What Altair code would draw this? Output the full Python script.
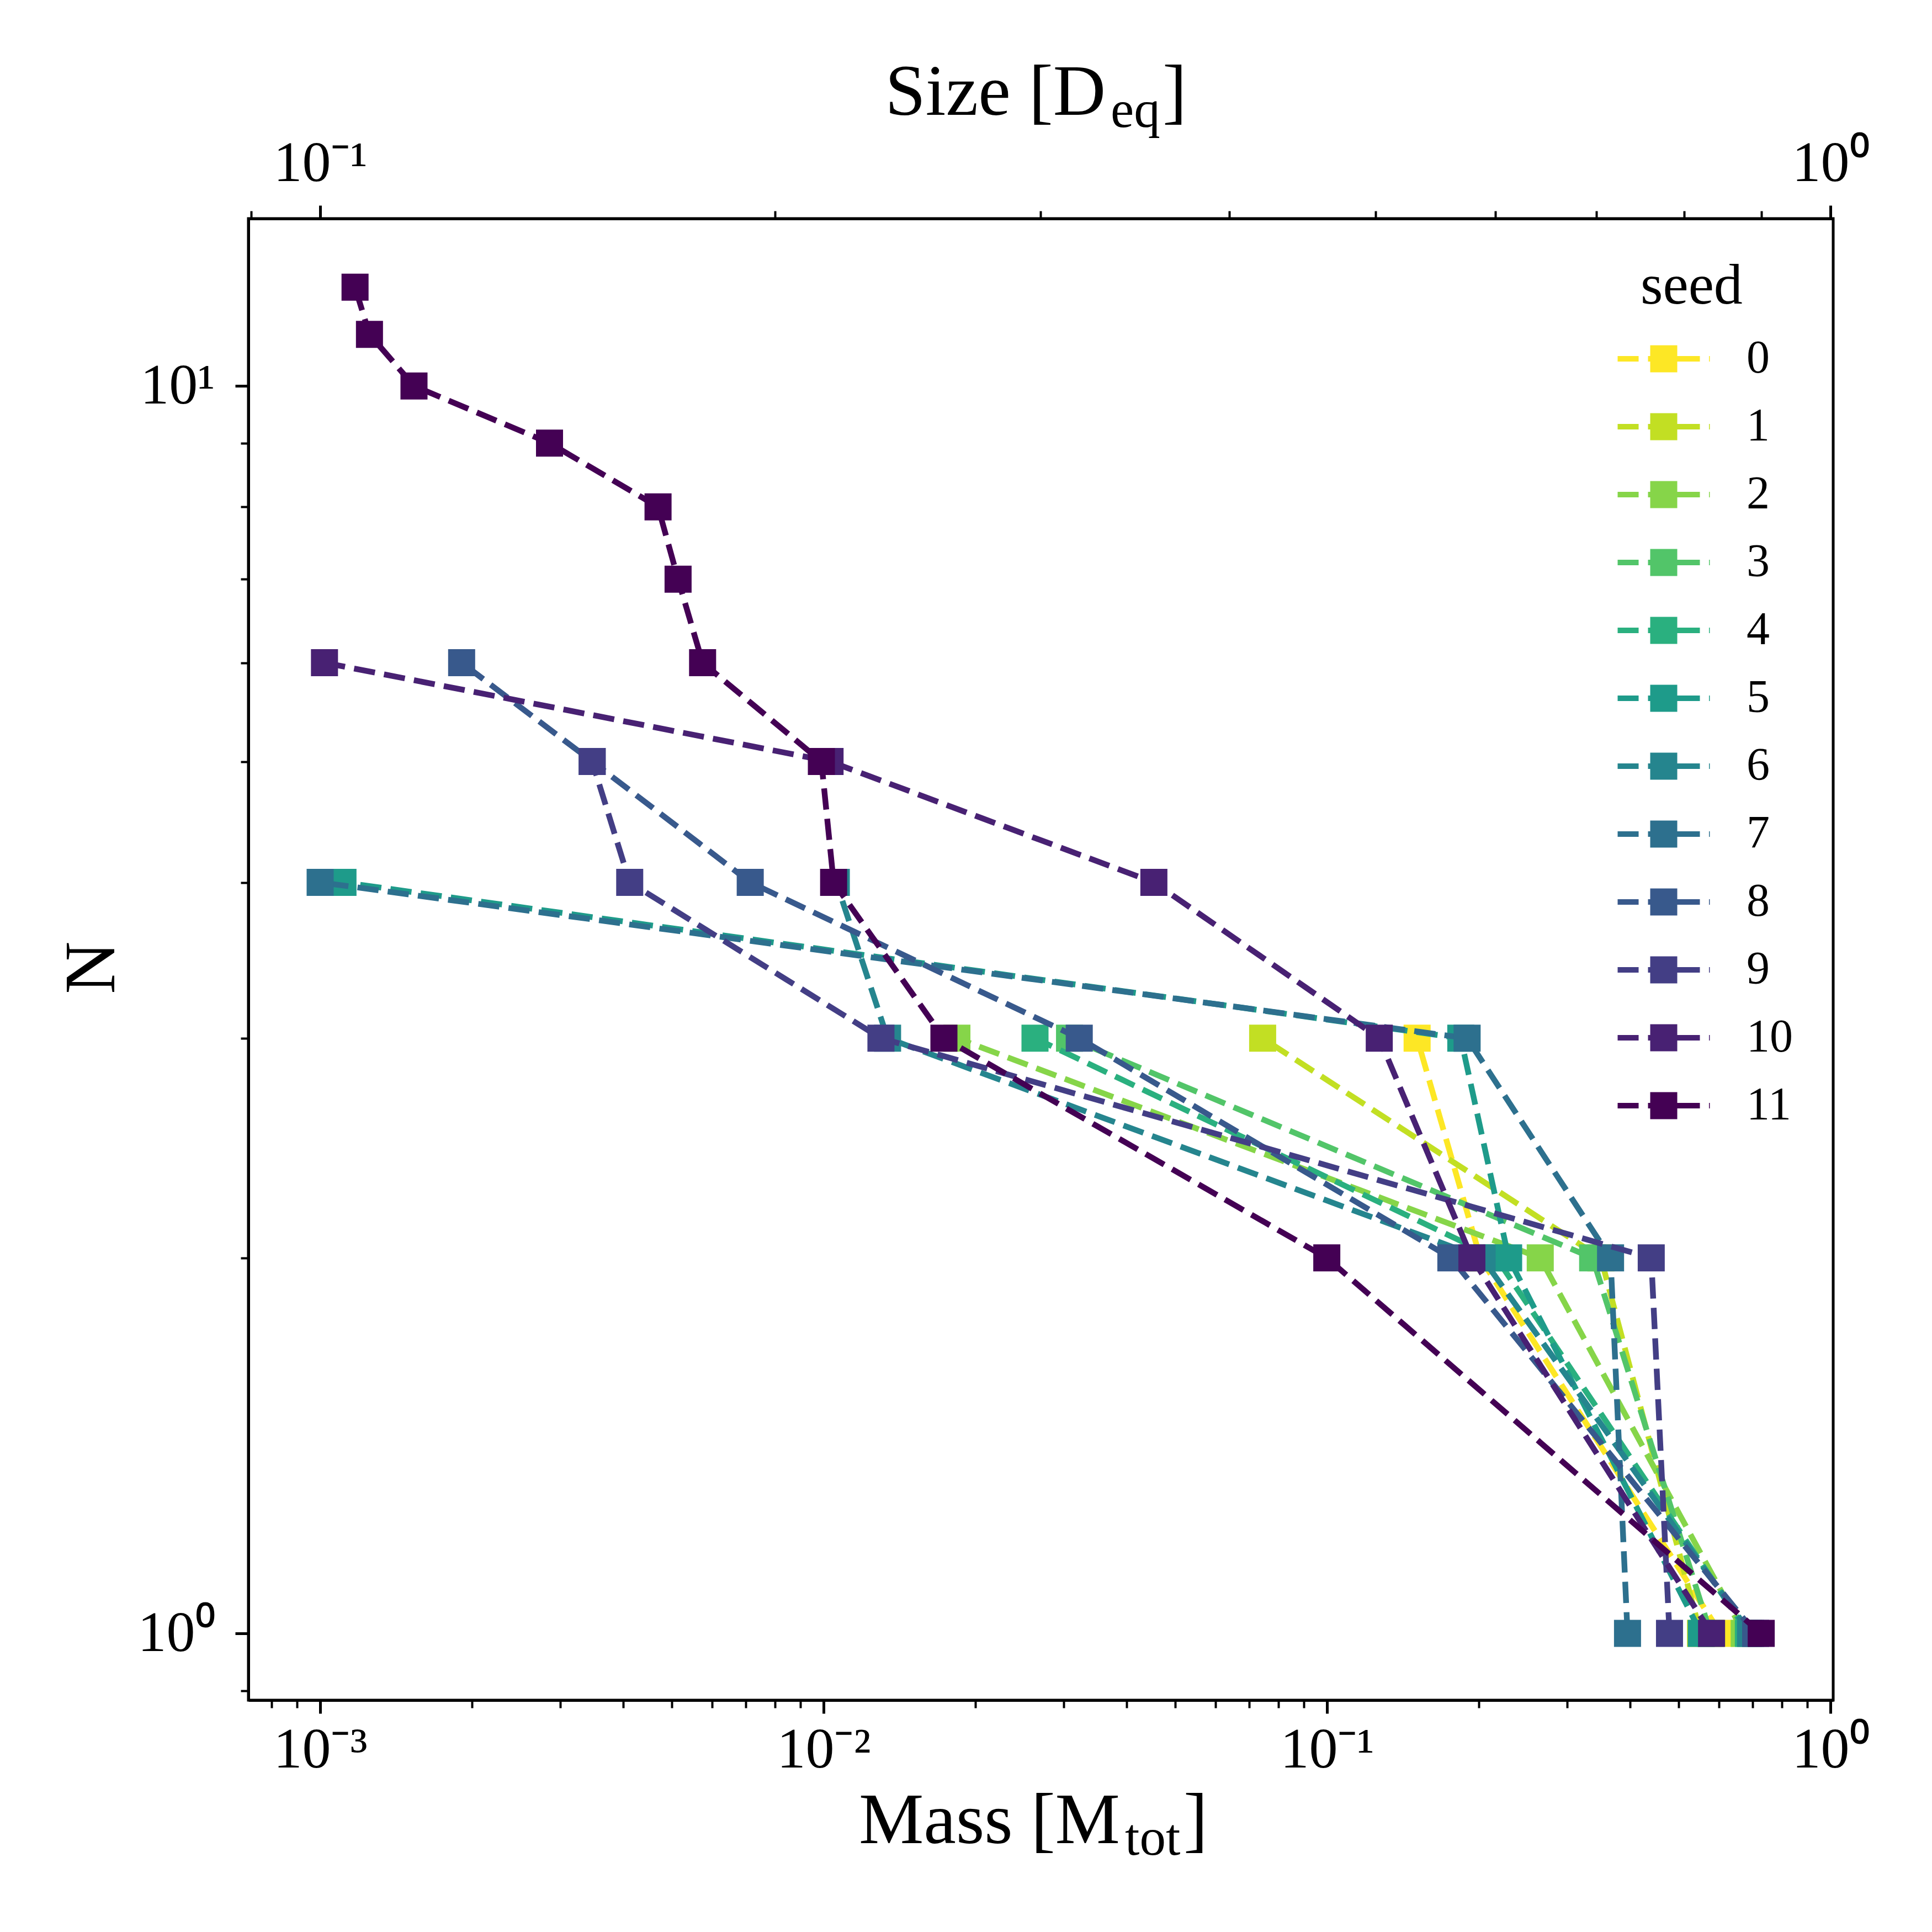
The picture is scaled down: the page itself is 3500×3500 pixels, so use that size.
import altair as alt
import pandas as pd

# ---------------- data ----------------
SEEDS = list(range(12))
COLORS = ["#fde725", "#c2df23", "#86d549", "#52c569", "#2ab07f", "#1e9b8a",
          "#25858e", "#2d708e", "#38598c", "#433e85", "#482173", "#440154"]

# masses of the fragments of each seed, largest first (N = 1, 2, 3, ...)
MASS_0 = [0.605, 0.2016, 0.151]
MASS_1 = [0.552, 0.350, 0.0745]
MASS_2 = [0.674, 0.2652, 0.0184]
MASS_3 = [0.578, 0.337, 0.0308]
MASS_4 = [0.687, 0.217, 0.0263]
MASS_5 = [0.554, 0.2295, 0.1844, 0.00111]
MASS_6 = [0.694, 0.2033, 0.0134, 0.0106]
MASS_7 = [0.3953, 0.3658, 0.1898, 0.00100]
MASS_8 = [0.7103, 0.1762, 0.0322, 0.00715, 0.00347, 0.00191]
MASS_9 = [0.479, 0.4406, 0.0130, 0.00412, 0.00347]
MASS_10 = [0.5806, 0.194, 0.127, 0.0453, 0.0103, 0.00102]
MASS_11 = [0.7286, 0.0999, 0.01734, 0.01047, 0.00990, 0.00575, 0.00514,
           0.00469, 0.002855, 0.001536, 0.001253, 0.001173]
MASSES = [MASS_0, MASS_1, MASS_2, MASS_3, MASS_4, MASS_5, MASS_6, MASS_7,
          MASS_8, MASS_9, MASS_10, MASS_11]

X_TICKS = [0.0008, 0.0009, 0.001, 0.002, 0.003, 0.004, 0.005, 0.006, 0.007, 0.008, 0.009,
           0.01, 0.02, 0.03, 0.04, 0.05, 0.06, 0.07, 0.08, 0.09,
           0.1, 0.2, 0.3, 0.4, 0.5, 0.6, 0.7, 0.8, 0.9, 1.0]
Y_TICKS = [0.9, 1, 2, 3, 4, 5, 6, 7, 8, 9, 10]
TOP_TICKS = [0.09, 0.1, 0.2, 0.3, 0.4, 0.5, 0.6, 0.7, 0.8, 0.9, 1.0]

X_DOMAIN = [7.2022e-4, 1.0127]
Y_DOMAIN = [0.8841, 13.62]
TOP_DOMAIN = [X_DOMAIN[0] ** (1 / 3), X_DOMAIN[1] ** (1 / 3)]

rows = []
for s, ms in zip(SEEDS, MASSES):
    for i, m in enumerate(ms):
        rows.append({"seed": s, "mass": m, "N": i + 1})
df = pd.DataFrame(rows)

# ---------------- styling ----------------
FONT = "Liberation Serif"
W, H = 2871, 2684

MAJ = "abs(log(datum.value)/LN10 - round(log(datum.value)/LN10)) < 0.001"
E = "round(log(datum.value)/LN10)"
LBL = (f"({MAJ}) ? ({E} == -3 ? '10⁻³' : {E} == -2 ? '10⁻²' : {E} == -1 ? '10⁻¹' : "
       f"{E} == 0 ? '10⁰' : '10¹') : ''")
TICK_SIZE = {"condition": {"test": MAJ, "value": 24}, "value": 14}
TICK_W = {"condition": {"test": MAJ, "value": 5}, "value": 4}


def make_axis(values, orient, pad):
    return alt.Axis(values=values, orient=orient, labelExpr=LBL, title=None,
                    tickSize=TICK_SIZE, tickWidth=TICK_W, tickColor="black",
                    domainColor="black", domainWidth=5, grid=False,
                    labelFont=FONT, labelFontSize=104, labelColor="black",
                    labelPadding=pad, labelOverlap=False, labelFlush=False,
                    labelBound=False)


x_axis = make_axis(X_TICKS, "bottom", 15)
y_axis = make_axis(Y_TICKS, "left", 37)
top_axis = make_axis(TOP_TICKS, "top", 23)

xs = alt.Scale(type="log", domain=X_DOMAIN, nice=False)
ys = alt.Scale(type="log", domain=Y_DOMAIN, nice=False)
ts = alt.Scale(type="log", domain=TOP_DOMAIN, nice=False)
fill_scale = alt.Scale(domain=SEEDS, range=COLORS)
# stroke scale: same colours, domain taken from the data (sorted 0..11)
stroke_scale = alt.Scale(range=COLORS)

# legend symbol: dashed line sample with a square in the middle (unit = half square side)
LEG_PATH = ("M-3.408,-0.204H-1.857V0.204H-3.408Z "
            "M-1.163,-0.204H1.122V0.204H-1.163Z "
            "M1.082,-0.204H2.673V0.204H1.082Z "
            "M3.347,-0.204H3.408V0.204H3.347Z "
            "M-1,-1H1V1H-1Z")
legend = alt.Legend(title="seed", orient="none", legendX=2522, legendY=72,
                    symbolType=LEG_PATH, symbolSize=2401, symbolStrokeWidth=0,
                    symbolOpacity=1, labelFont=FONT, labelFontSize=84,
                    labelColor="black", labelOffset=108, labelLimit=0,
                    titleFont=FONT, titleFontSize=104, titleFontWeight="normal",
                    titleColor="black", titleAnchor="start", titleBaseline="top",
                    titleLimit=1000, titlePadding=36, rowPadding=39, padding=0,
                    direction="vertical")

base = alt.Chart(df)
layers = []
for s in SEEDS:
    sub = base.transform_filter(alt.datum.seed == s)
    line = sub.mark_line(strokeWidth=10.4, strokeDash=[38.5, 16.7]).encode(
        x=alt.X("mass:Q", scale=xs, axis=x_axis),
        y=alt.Y("N:Q", scale=ys, axis=y_axis),
        stroke=alt.Stroke("seed:N", scale=stroke_scale, legend=None),
        order=alt.Order("N:Q"),
    )
    pts = sub.mark_square(size=2401, opacity=1).encode(
        x=alt.X("mass:Q", scale=xs, axis=x_axis),
        y=alt.Y("N:Q", scale=ys, axis=y_axis),
        fill=alt.Fill("seed:N", scale=fill_scale, legend=legend),
    )
    layers += [line, pts]
main = alt.layer(*layers)

top = base.transform_calculate(size="pow(datum.mass, 1/3)").mark_point(opacity=0).encode(
    x=alt.X("size:Q", scale=ts, axis=top_axis),
    y=alt.Y("N:Q", scale=ys, axis=y_axis),
)


def txt(text, x, y, size, align, angle=0, baseline="alphabetic"):
    return alt.Chart(pd.DataFrame({"t": [text]})).mark_text(
        align=align, baseline=baseline, font=FONT, fontSize=size, color="black", angle=angle
    ).encode(text="t:N", x=alt.value(x), y=alt.value(y))


texts = [
    txt("Mass [M", 1579, 2943, 132, "right"),
    txt("tot", 1588, 2964, 95, "left"),
    txt("]", 1694, 2943, 132, "left"),
    txt("Size [D", 1553, -188, 132, "right"),
    txt("eq", 1562, -166, 95, "left"),
    txt("]", 1656, -188, 132, "left"),
    txt("N", -283, 1357, 132, "center", angle=270, baseline="middle"),
]

chart = alt.layer(main, top, *texts).resolve_scale(x="independent").resolve_axis(
    x="independent"
).properties(
    width=W, height=H,
    background="white",
    autosize=alt.AutoSizeParams(type="none"),
    padding={"left": 442, "top": 388, "right": 171, "bottom": 412},
).configure_view(stroke="black", strokeWidth=5)

chart.save("out.html", embed_options={"renderer": "svg", "actions": False})
